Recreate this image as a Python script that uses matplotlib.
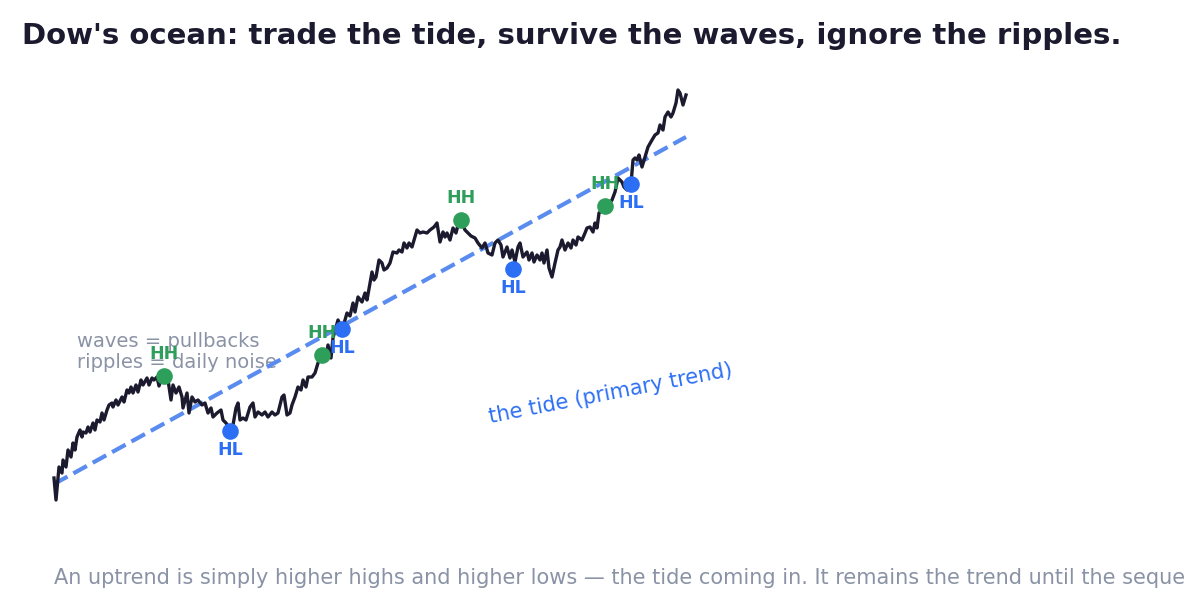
import matplotlib.pyplot as plt
import numpy as np

# price path (t = session clock, arbitrary units; price in $)
t = [0, 2, 5, 8, 9, 12, 14, 17, 19, 21, 23, 26, 28, 29, 32, 34, 36, 39, 41, 43,
     46, 48, 50, 53, 55, 58, 59, 62, 64, 68, 70, 73, 75, 77, 79, 82, 84, 87, 89, 93,
     95, 98, 100, 103, 105, 107, 110, 114, 117, 119, 122, 125, 128, 129, 133, 135, 138, 141, 144, 148,
     151, 154, 157, 159, 163, 167, 169, 172, 176, 179, 182, 184, 186, 189, 192, 196, 199, 201, 204, 208,
     211, 214, 218, 221, 224, 228, 230, 233, 236, 238, 241, 244, 247, 249, 252, 254, 258, 261, 264, 268,
     272, 274, 277, 279, 282, 284, 288, 291, 293, 296, 299, 301, 304, 308, 311, 313, 316, 318, 320, 322,
     325, 328, 330, 333, 336, 339, 343, 345, 348, 350, 353, 355, 358, 361, 363, 366, 369, 373, 376, 380,
     383, 386, 389, 391, 393, 396, 399, 402, 404, 407, 411, 414, 417, 421, 424, 428, 431, 434, 438, 441,
     444, 447, 449, 453, 456, 458, 461, 464, 466, 469, 473, 475, 478, 480, 483, 486, 488, 490, 493, 495,
     498, 501, 504, 506, 508, 511, 514, 517, 519, 522, 524, 528, 531, 533, 536, 539, 541, 543, 545, 549,
     551, 554, 558, 561, 564, 568, 570, 573, 577, 579, 581, 583, 585, 588, 591, 594, 598, 601, 604, 606,
     609, 611, 614, 617, 619, 622, 624, 626, 629, 632]
price = [12.2, 10.0, 13.3, 12.7, 14.0, 13.3, 15.0, 14.3, 15.7, 15.0, 16.3, 17.0, 16.3, 16.8, 16.7, 17.3, 16.8, 17.7, 17.0, 18.0,
         17.8, 18.7, 18.0, 19.0, 19.5, 19.7, 19.3, 20.0, 19.5, 20.3, 19.8, 21.0, 20.7, 21.3, 20.7, 21.5, 20.8, 22.0, 21.5, 22.2,
         21.5, 22.2, 22.0, 22.3, 21.4, 22.0, 22.4, 22.0, 20.0, 21.5, 20.7, 21.3, 20.3, 19.2, 20.7, 18.7, 20.3, 19.8, 20.0, 19.5,
         19.7, 18.7, 19.2, 18.3, 18.7, 19.0, 18.0, 17.7, 17.1, 17.5, 19.2, 19.7, 18.0, 18.2, 18.0, 19.3, 19.7, 18.3, 18.8, 18.5,
         18.8, 18.3, 18.8, 18.5, 18.7, 20.3, 20.5, 18.5, 18.7, 19.5, 20.3, 21.3, 21.0, 22.0, 21.3, 22.3, 22.3, 22.7, 23.7, 24.5,
         24.3, 25.5, 24.2, 26.2, 27.3, 28.0, 27.1, 28.0, 28.7, 28.4, 29.7, 28.8, 30.3, 29.8, 30.7, 30.0, 31.7, 32.8, 32.0, 32.3,
         34.0, 33.7, 33.0, 33.2, 33.7, 34.8, 34.7, 35.0, 34.8, 35.7, 35.2, 35.7, 35.3, 36.3, 37.0, 36.7, 36.8, 36.7, 37.0, 37.3,
         37.7, 35.8, 36.8, 36.3, 36.7, 36.0, 37.2, 36.7, 37.5, 38.0, 37.0, 36.7, 36.4, 36.2, 35.7, 35.2, 35.7, 34.7, 34.5, 35.7,
         36.0, 35.5, 34.3, 35.3, 34.2, 35.0, 33.8, 35.3, 35.7, 34.3, 34.8, 34.0, 34.7, 33.8, 34.5, 34.0, 34.7, 33.7, 35.0, 33.2,
         32.3, 33.7, 35.0, 35.3, 36.0, 35.0, 35.7, 35.2, 36.0, 35.5, 36.3, 36.0, 36.7, 37.2, 37.3, 36.8, 37.7, 37.2, 38.7, 39.0,
         39.4, 39.5, 40.0, 40.8, 42.2, 41.8, 41.3, 41.0, 41.6, 44.0, 44.2, 44.0, 44.5, 43.3, 44.3, 45.3, 46.0, 46.5, 46.7, 47.5,
         47.0, 48.3, 48.8, 48.3, 48.7, 49.7, 51.0, 50.7, 49.5, 50.5]

# swing points
hh_t = [110, 268, 407, 551]
hh_p = [22.4, 24.5, 38.0, 39.4]
hl_t = [176, 288, 459, 577]
hl_p = [16.9, 27.1, 33.1, 41.6]

# primary trend (the tide)
tide_t = [0, 632]
tide_p = [11.6, 46.3]

ink = '#1b1a2e'
grey = '#8a93a6'
green = '#2e9e5b'
blue = '#2d6ff4'

fig = plt.figure(figsize=(11.85, 6.15), dpi=100)
ax = fig.add_axes([54 / 1185, 105 / 615, 632 / 1185, 430 / 615])
ax.set_xlim(0, 632)
ax.set_ylim(9, 52)
ax.axis('off')

ax.plot(tide_t, tide_p, linestyle='--', color='#5a8cf0', linewidth=3, zorder=2, clip_on=False)
ax.plot(t, price, color=ink, linewidth=2.4, zorder=3, clip_on=False)

ax.scatter(hh_t, hh_p, s=120, color=green, zorder=4, clip_on=False)
ax.scatter(hl_t, hl_p, s=120, color=blue, zorder=4, clip_on=False)
for x, y in zip(hh_t, hh_p):
    ax.annotate('HH', (x, y), xytext=(0, 15.5), textcoords='offset points', ha='center', va='center',
                fontsize=12.5, fontweight='bold', color=green, zorder=5)
for x, y in zip(hl_t, hl_p):
    ax.annotate('HL', (x, y), xytext=(0, -14), textcoords='offset points', ha='center', va='center',
                fontsize=12.5, fontweight='bold', color=blue, zorder=5)

ax.text(23, 24.8, 'waves = pullbacks\nripples = daily noise', fontsize=14, color=grey,
        ha='left', va='center', linespacing=1.15, zorder=1)
ax.text(557, 20.6, 'the tide (primary trend)', fontsize=15, color=blue, rotation=11,
        ha='center', va='center')

fig.text(22 / 1185, 1 - 36 / 615, "Dow's ocean: trade the tide, survive the waves, ignore the ripples.",
         fontsize=21, fontweight='bold', color=ink, ha='left', va='center')
fig.text(54 / 1185, 1 - 578 / 615,
         'An uptrend is simply higher highs and higher lows \u2014 the tide coming in. '
         'It remains the trend until the sequence breaks.',
         fontsize=15, color=grey, ha='left', va='center')

fig.savefig('out.png', dpi=100, facecolor='white')
